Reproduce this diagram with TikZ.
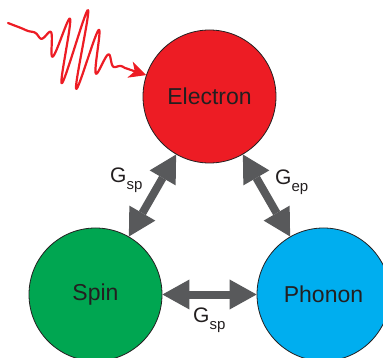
\documentclass[tikz,border=0pt]{standalone}
\usepackage{fontspec}
\setmainfont{Liberation Sans}
\usepackage{xcolor}
\usetikzlibrary{arrows.meta}

\definecolor{elecred}{HTML}{ED1C24}
\definecolor{spingreen}{HTML}{00A651}
\definecolor{phononblue}{HTML}{00AEEF}
\definecolor{arrowgray}{HTML}{58595B}
\definecolor{textdark}{HTML}{231F20}

\newcommand{\lowsub}[1]{\raisebox{-7pt}{\fontsize{15}{18}\selectfont #1}}

\begin{document}
\begin{tikzpicture}[
    x=1pt, y=-1pt,
    bath/.style={draw=textdark, line width=0.8pt, circle, minimum size=133pt, inner sep=0pt,
                 text=textdark, font=\fontsize{23}{27}\selectfont},
    coupling/.style={line width=8pt, arrowgray,
                     {Triangle[length=27pt,width=30pt,line width=0pt]}-{Triangle[length=27pt,width=30pt,line width=0pt]}},
    pulse/.style={line width=2.2pt, elecred, line cap=round, line join=round,
                  -{Stealth[length=17pt,width=17pt,inset=5pt,line width=0pt]}},
    glabel/.style={anchor=base west, inner sep=0pt, text=textdark, font=\fontsize{21}{25}\selectfont}
]
\useasboundingbox (0,0) rectangle (383,358);

\node[bath, fill=elecred] (electron) at (209.5,96.5) {Electron};
\node[bath, fill=spingreen] (spin) at (95.5,294.5) {Spin};
\node[bath, fill=phononblue] (phonon) at (323.5,294.5) {Phonon};

% laser pulse
\draw[pulse] plot[domain=0:125, samples=400, variable=\s]
    ({8+0.933*\s+10*exp(-((\s-75)/24)^2)*cos(22.5*(\s-75))},
     {23+0.362*\s-40*exp(-((\s-75)/24)^2)*cos(22.5*(\s-75))})
    -- (electron);

% couplings
\draw[coupling] (electron) -- (spin);
\draw[coupling] (electron) -- (phonon);
\draw[coupling] (spin) -- (phonon);

\node[glabel] (gsp) at (110,183) {G\lowsub{sp}};
\node[glabel] (gep) at (275,185) {G\lowsub{ep}};
\node[glabel] (gss) at (193,322) {G\lowsub{sp}};

\end{tikzpicture}
\end{document}
